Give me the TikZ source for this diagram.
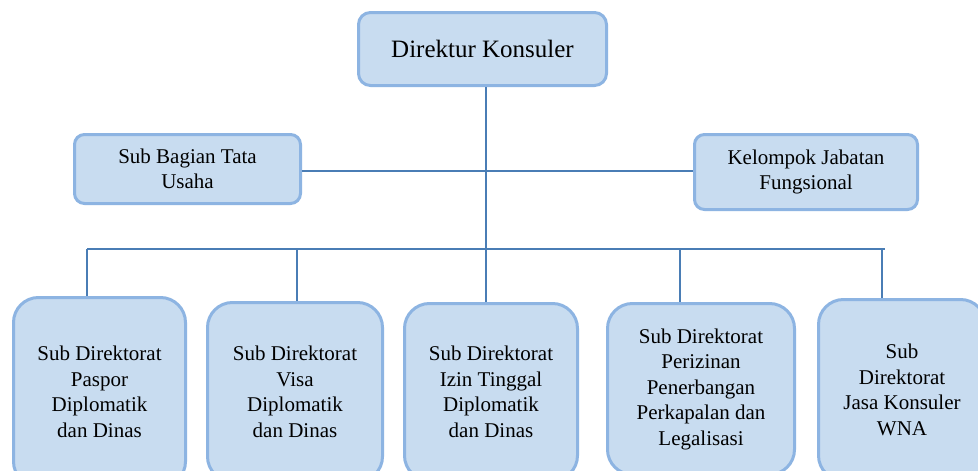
\documentclass[tikz,border=0pt]{standalone}
\usepackage{fontspec}
\setmainfont{Liberation Serif}
\definecolor{boxfill}{HTML}{C8DCF0}
\definecolor{boxline}{HTML}{8DB4E2}
\definecolor{conn}{HTML}{4A7DB5}
\begin{document}
\begin{tikzpicture}[x=1pt,y=-1pt,
  orgbox/.style={draw=boxline, fill=boxfill, line width=3pt, inner sep=0pt,
    align=center, text=black, font=\fontsize{21}{25.5}\selectfont},
  topbox/.style={orgbox, rounded corners=10pt},
  lowbox/.style={orgbox, rounded corners=25pt},
  link/.style={draw=conn, line width=1.3pt}]
\useasboundingbox (0,0) rectangle (978,471);
\fill[white] (0,0) rectangle (978,471);

\node[orgbox, rounded corners=12pt, minimum width=248pt, minimum height=73pt,
  font=\fontsize{25}{30}\selectfont] (dir) at (482.5,49) {Direktur Konsuler};

\node[topbox, minimum width=226pt, minimum height=69pt] (sbt) at (187.5,169)
  {Sub Bagian Tata\\Usaha};
\node[topbox, minimum width=223pt, minimum height=75pt] (kjf) at (806,172)
  {Kelompok Jabatan\\Fungsional};

\node[lowbox, minimum width=172pt, minimum height=189pt] (b1) at (99.5,392)
  {Sub Direktorat\\Paspor\\Diplomatik\\dan Dinas};
\node[lowbox, minimum width=175pt, minimum height=179pt] (b2) at (295,392)
  {Sub Direktorat\\Visa\\Diplomatik\\dan Dinas};
\node[lowbox, minimum width=173pt, minimum height=177pt] (b3) at (491,392)
  {Sub Direktorat\\Izin Tinggal\\Diplomatik\\dan Dinas};
\node[lowbox, minimum width=187pt, minimum height=171pt] (b4) at (701,389)
  {Sub Direktorat\\Perizinan\\Penerbangan\\Perkapalan dan\\Legalisasi};
\node[lowbox, minimum width=167pt, minimum height=181pt] (b5) at (902,390)
  {Sub\\Direktorat\\Jasa Konsuler\\WNA};

% connector anchors
\coordinate (trunk) at (486,249);
\coordinate (hl) at (0,171);
\coordinate (c1) at (87,249);
\coordinate (c2) at (297,249);
\coordinate (c4) at (680,249);
\coordinate (c5) at (882,249);
\coordinate (busend) at (885,249);

\draw[link] (sbt.east |- hl) -- (kjf.west |- hl);
\draw[link] (c1) -- (busend);
\draw[link] (trunk |- dir.south) -- (trunk |- b3.north);
\draw[link] (c1) -- (c1 |- b1.north);
\draw[link] (c2) -- (c2 |- b2.north);
\draw[link] (c4) -- (c4 |- b4.north);
\draw[link] (c5) -- (c5 |- b5.north);
\end{tikzpicture}
\end{document}
